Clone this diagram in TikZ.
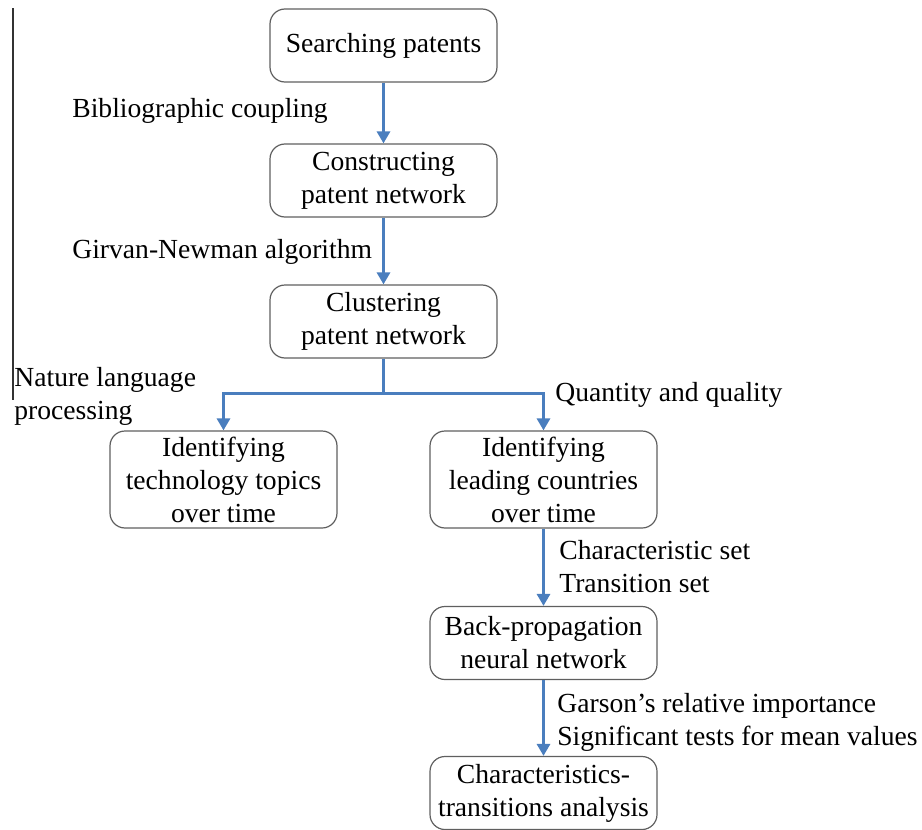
\documentclass[tikz,border=0pt]{standalone}
\usepackage{fontspec}
\setmainfont{Liberation Serif}
\usetikzlibrary{arrows.meta}

\definecolor{flowblue}{RGB}{74,126,190}
\definecolor{boxgray}{RGB}{95,95,95}

\begin{document}
\begin{tikzpicture}[x = 0.5pt, y = -0.5pt,
	every node/.style = {font = \fontsize{13.8}{16.5}\selectfont},
	stage/.style = {draw = boxgray, line width = 0.6pt, rounded corners = 7.5pt, align = center, inner sep = 0pt, minimum width = 113.5pt, minimum height = 36.5pt},
	tallstage/.style = {stage, minimum height = 48.5pt},
	flow/.style = {draw = flowblue, line width = 1.5pt, -{Triangle[width = 6.5pt, length = 6pt]}},
	link/.style = {draw = flowblue, line width = 1.5pt},
	note/.style = {align = left, inner sep = 0pt, anchor = west}]
	\useasboundingbox (0, 0) rectangle (922, 830);
	
	\draw[line width = 0.6pt, black!80] (13, 8) -- (13, 400);
	
	\node[stage] (search) at (383.5, 45.5) {Searching patents};
	\node[stage] (construct) at (383.5, 180.5) {Constructing\\patent network};
	\node[stage] (cluster) at (383.5, 321.5) {Clustering\\patent network};
	\node[tallstage] (topics) at (223.5, 479.5) {Identifying\\technology topics\\over time};
	\node[tallstage] (countries) at (543.5, 479.5) {Identifying\\leading countries\\over time};
	\node[stage] (bpnn) at (543.5, 643) {Back-propagation\\neural network};
	\node[stage] (analysis) at (543.5, 793) {Characteristics-\\transitions analysis};
	
	\coordinate (fork) at (383.5, 393);
	
	\draw[flow] (search) -- (construct);
	\draw[flow] (construct) -- (cluster);
	\draw[link] (cluster.south) -- (fork);
	\draw[flow] (fork) -| (topics.north);
	\draw[flow] (fork) -| (countries.north);
	\draw[flow] (countries) -- (bpnn);
	\draw[flow] (bpnn) -- (analysis);
	
	\node[note] (coupling) at (72, 111) {Bibliographic coupling};
	\node[note] (girvan) at (72, 252) {Girvan-Newman algorithm};
	\node[note] (nlp) at (14, 396) {Nature language\\processing};
	\node[note] (quantity) at (555, 395) {Quantity and quality};
	\node[note] (sets) at (559, 567) {Characteristic set\\Transition set};
	\node[note] (garson) at (557, 722) {Garson’s relative importance\\Significant tests for mean values};
\end{tikzpicture}
\end{document}
